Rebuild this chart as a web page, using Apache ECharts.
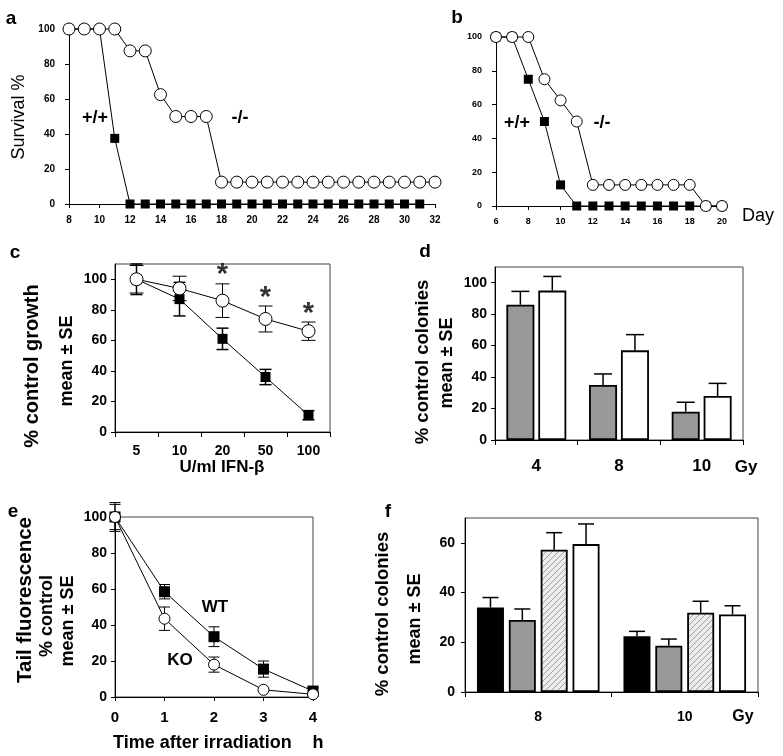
<!DOCTYPE html>
<html><head><meta charset="utf-8">
<script src="https://cdn.jsdelivr.net/npm/echarts@6/dist/echarts.min.js"></script>
<style>html,body{margin:0;padding:0;background:#fff}#chart{width:783px;height:756px}</style>
</head><body><div id="chart"></div>
<script>
// ---------- DATA ----------
// Panel a: survival (%) by day
const aDays = [8,9,10,11,12,13,14,15,16,17,18,19,20,21,22,23,24,25,26,27,28,29,30,31,32];
const aWT = [100,100,100,37.5,0,0,0,0,0,0,0,0,0,0,0,0,0,0,0,0,0,0,0,0];
const aKO = [100,100,100,100,87.5,87.5,62.5,50,50,50,12.5,12.5,12.5,12.5,12.5,12.5,12.5,12.5,12.5,12.5,12.5,12.5,12.5,12.5,12.5];
// Panel b
const bDays = [6,7,8,9,10,11,12,13,14,15,16,17,18,19,20];
const bWT = [100,100,75,50,12.5,0,0,0,0,0,0,0,0,0,0];
const bKO = [100,100,100,75,62.5,50,12.5,12.5,12.5,12.5,12.5,12.5,12.5,0,0];
// Panel c: % control growth vs U/ml IFN-beta
const cDoses = ['5','10','20','50','100'];
const cWT = [100,87,61,36,11];
const cWTerr = [10,11,7,5,3];
const cKO = [100,94,86,74,66];
const cKOerr = [9,8,11,8.5,6];
const cStarIdx = [2,3,4];
// Panel d: % control colonies vs Gy
const dCats = ['4','8','10'];
const dGray = [86,35,18];
const dGrayErr = [8.5,7,6];
const dWhite = [95,57,28];
const dWhiteErr = [9,10,8];
// Panel e: tail fluorescence vs time (h)
const eTime = [0,1,2,3,4];
const eWT = [100,58.5,33.5,15.5,3.3];
const eWTerr = [7,4,5.5,4.5,2];
const eKO = [100,43.5,18,4,1.5];
const eKOerr = [8,6.5,4.2,1,1];
// Panel f
const fCats = ['8','10'];
const fBlack = [34,22.4];
const fBlackErr = [4,2];
const fGray = [29,18.6];
const fGrayErr = [4.4,2.7];
const fHatch = [57.2,31.9];
const fHatchErr = [6.9,4.6];
const fWhite = [59.5,31.2];
const fWhiteErr = [8.1,3.5];

// ---------- HELPERS ----------
const FONT = '"Liberation Sans", Arial, Helvetica, sans-serif';
const zip = (xs, ys) => xs.map((x,i)=>[x, ys[i]]).filter(p => p[1] !== undefined && p[1] !== null);
const idx = arr => arr.map((_,i)=>i);

function valAxis(gi, min, max, interval, fs, margin, extra) {
  return Object.assign({
    type:'value', gridIndex:gi, min, max, interval,
    axisLine:{show:true, onZero:false, lineStyle:{color:'#000', width:1}},
    axisTick:{show:true, length:4, lineStyle:{color:'#000'}},
    axisLabel:{color:'#000', fontFamily:FONT, fontWeight:'bold', fontSize:fs, margin},
    splitLine:{show:false}
  }, extra || {});
}
function catAxis(gi, data, fs, margin) {
  return {
    type:'category', gridIndex:gi, data, boundaryGap:true,
    axisLine:{show:true, onZero:false, lineStyle:{color:'#000', width:1}},
    axisTick:{show:true, length:5, lineStyle:{color:'#000'}},
    axisLabel:{color:'#000', fontFamily:FONT, fontWeight:'bold', fontSize:fs, margin},
    splitLine:{show:false}
  };
}
function lineSeries(gi, data, kind, size) {
  const sq = kind === 'sq';
  return {
    type:'line', xAxisIndex:gi, yAxisIndex:gi, data,
    symbol: sq ? 'rect' : 'circle', symbolSize:size, showAllSymbol:true, clip:false,
    lineStyle:{color:'#000', width:1},
    itemStyle:{color: sq ? '#000' : '#fff', borderColor:'#000', borderWidth: sq ? 0 : 1},
    z: sq ? 3 : 4, animation:false, emphasis:{disabled:true}, silent:true
  };
}
function errSeries(gi, xs, ys, es, opt) {
  const data = xs.map((x,i)=>[x, ys[i], es[i]]);
  const lw = opt.lw || 1;
  return {
    type:'custom', xAxisIndex:gi, yAxisIndex:gi, data, z: opt.z || 1, clip:false, silent:true,
    encode:{x:0, y:1}, animation:false,
    renderItem(params, api) {
      const x = api.value(0), y = api.value(1), e = api.value(2);
      const c = api.coord([x, y]), t = api.coord([x, y + e]), b = api.coord([x, y - e]);
      const px = c[0] + (opt.offset || 0);
      const hw = opt.cap / 2;
      const st = {stroke:'#000', lineWidth:lw};
      const ch = [
        {type:'line', shape:{x1:px, y1: opt.both ? b[1] : c[1], x2:px, y2:t[1]}, style:st},
        {type:'line', shape:{x1:px-hw, y1:t[1], x2:px+hw, y2:t[1]}, style:st}
      ];
      if (opt.both) ch.push({type:'line', shape:{x1:px-hw, y1:b[1], x2:px+hw, y2:b[1]}, style:st});
      return {type:'group', children:ch};
    }
  };
}
function barSeries(gi, data, color, bw, gap) {
  return {type:'bar', xAxisIndex:gi, yAxisIndex:gi, data, barWidth:bw, barGap:gap,
    itemStyle:{color, borderColor:'#000', borderWidth:1.8}, z:2, animation:false, silent:true};
}
function txt(text, x, y, size, weight, rot, align) {
  return {type:'text', x, y, rotation: rot || 0, silent:true,
    style:{text, font: weight + ' ' + size + 'px ' + FONT, fill:'#000',
      textAlign: align || 'center', textVerticalAlign:'middle', verticalAlign:'middle'}};
}

// hatch pattern
const hatch = document.createElement('canvas');
hatch.width = 6; hatch.height = 6;
(function(){
  const g = hatch.getContext('2d');
  g.fillStyle = '#ececec'; g.fillRect(0,0,6,6);
  g.strokeStyle = '#a0a0a0'; g.lineWidth = 1;
  g.beginPath();
  g.moveTo(0,6); g.lineTo(6,0);
  g.moveTo(-1,1); g.lineTo(1,-1);
  g.moveTo(5,7); g.lineTo(7,5);
  g.stroke();
})();

const V = Math.PI / 2;
const dBW = 28, dGap = 0.14;
const dOff = dBW * (1 + dGap) / 2;
const fBW = 27, fGap = 0.18;
const fStep = fBW * (1 + fGap);

const option = {
  backgroundColor:'#fff',
  animation:false,
  grid:[
    {left:69, top:29, width:366, height:175},
    {left:496, top:37, width:226, height:169},
    {left:115, top:264, width:215, height:168, show:true, borderColor:'#444', borderWidth:1, backgroundColor:'transparent'},
    {left:495, top:267, width:248, height:173, show:true, borderColor:'#444', borderWidth:1, backgroundColor:'transparent'},
    {left:115, top:517, width:198, height:180, show:true, borderColor:'#444', borderWidth:1, backgroundColor:'transparent'},
    {left:465, top:518, width:293, height:174, show:true, borderColor:'#444', borderWidth:1, backgroundColor:'transparent'}
  ],
  xAxis:[
    valAxis(0, 8, 32, 2, 10, 11),
    valAxis(1, 6, 20, 2, 9, 11),
    catAxis(2, cDoses, 14, 12),
    catAxis(3, dCats, 17, 18),
    valAxis(4, 0, 4, 1, 15, 13),
    catAxis(5, fCats, 14, 18)
  ],
  yAxis:[
    valAxis(0, 0, 100, 20, 10, 14),
    valAxis(1, 0, 100, 20, 9, 14),
    valAxis(2, 0, 110, 20, 14, 8, {axisLabel:{color:'#000', fontFamily:FONT, fontWeight:'bold', fontSize:14, margin:8, showMaxLabel:false}}),
    valAxis(3, 0, 110, 20, 14, 8, {axisLabel:{color:'#000', fontFamily:FONT, fontWeight:'bold', fontSize:14, margin:8, showMaxLabel:false}}),
    valAxis(4, 0, 100, 20, 14, 8),
    valAxis(5, 0, 70, 20, 14, 10, {axisLabel:{color:'#000', fontFamily:FONT, fontWeight:'bold', fontSize:14, margin:10, showMaxLabel:false}})
  ],
  series:[
    // a
    lineSeries(0, zip(aDays, aWT), 'sq', 9),
    lineSeries(0, zip(aDays, aKO), 'ci', 12),
    // b
    lineSeries(1, zip(bDays, bWT), 'sq', 9),
    lineSeries(1, zip(bDays, bKO), 'ci', 11),
    // c
    errSeries(2, idx(cDoses), cWT, cWTerr, {cap:12, both:true, lw:1.5}),
    errSeries(2, idx(cDoses), cKO, cKOerr, {cap:14, both:true}),
    lineSeries(2, cWT, 'sq', 10),
    lineSeries(2, cKO, 'ci', 13),
    {type:'scatter', xAxisIndex:2, yAxisIndex:2, symbolSize:0, silent:true, z:5,
     data: cStarIdx.map(i => [i, cKO[i] + cKOerr[i]]),
     label:{show:true, formatter:'*', position:'top', distance:-6, color:'#000',
       fontFamily:FONT, fontWeight:'bold', fontSize:29}},
    // d
    barSeries(3, dGray, '#999999', dBW, (dGap*100)+'%'),
    barSeries(3, dWhite, '#ffffff', dBW, (dGap*100)+'%'),
    errSeries(3, idx(dCats), dGray, dGrayErr, {cap:18, offset:-dOff, lw:1.5}),
    errSeries(3, idx(dCats), dWhite, dWhiteErr, {cap:18, offset:dOff, lw:1.5}),
    // e
    errSeries(4, eTime, eWT, eWTerr, {cap:11, both:true}),
    errSeries(4, eTime, eKO, eKOerr, {cap:11, both:true}),
    lineSeries(4, zip(eTime, eWT), 'sq', 11),
    lineSeries(4, zip(eTime, eKO), 'ci', 11),
    // f
    barSeries(5, fBlack, '#000000', fBW, (fGap*100)+'%'),
    barSeries(5, fGray, '#999999', fBW, (fGap*100)+'%'),
    barSeries(5, fHatch, {image:hatch, repeat:'repeat'}, fBW, (fGap*100)+'%'),
    barSeries(5, fWhite, '#ffffff', fBW, (fGap*100)+'%'),
    errSeries(5, idx(fCats), fBlack, fBlackErr, {cap:16, offset:-1.5*fStep, lw:1.5}),
    errSeries(5, idx(fCats), fGray, fGrayErr, {cap:16, offset:-0.5*fStep, lw:1.5}),
    errSeries(5, idx(fCats), fHatch, fHatchErr, {cap:16, offset:0.5*fStep, lw:1.5}),
    errSeries(5, idx(fCats), fWhite, fWhiteErr, {cap:16, offset:1.5*fStep, lw:1.5})
  ],
  graphic:[
    txt('a', 11, 19, 19, 'bold'),
    txt('Survival %', 19, 117, 18, 'normal', V),
    txt('+/+', 95, 118, 18, 'bold'),
    txt('-/-', 240, 118, 18, 'bold'),
    txt('b', 457, 18, 19, 'bold'),
    txt('+/+', 517, 123, 18, 'bold'),
    txt('-/-', 602, 123, 18, 'bold'),
    txt('Day', 758, 216, 18, 'normal'),
    txt('c', 15, 253, 19, 'bold'),
    txt('% control growth', 32, 366, 20, 'bold', V),
    txt('mean \u00b1 SE', 67, 361, 18, 'bold', V),
    txt('U/ml IFN-\u03b2', 222, 467, 17, 'bold'),
    txt('d', 425, 252, 19, 'bold'),
    txt('% control colonies', 423, 362, 18.5, 'bold', V),
    txt('mean \u00b1 SE', 447, 363, 18, 'bold', V),
    txt('Gy', 746, 467, 17, 'bold'),
    txt('e', 13, 512, 19, 'bold'),
    txt('Tail fluorescence', 25, 600, 20.5, 'bold', V),
    txt('% control', 47, 616, 18, 'bold', V),
    txt('mean \u00b1 SE', 68, 621, 18, 'bold', V),
    txt('Time after irradiation', 113, 743, 18, 'bold', 0, 'left'),
    txt('h', 318, 743, 18, 'bold'),
    txt('WT', 215, 607, 17, 'bold'),
    txt('KO', 180, 660, 17, 'bold'),
    txt('f', 388, 512, 19, 'bold'),
    txt('% control colonies', 383, 614, 18.5, 'bold', V),
    txt('mean \u00b1 SE', 415, 619, 18, 'bold', V),
    txt('Gy', 743, 717, 16, 'bold')
  ]
};
const chart = echarts.init(document.getElementById('chart'));
chart.setOption(option);
</script></body></html>
